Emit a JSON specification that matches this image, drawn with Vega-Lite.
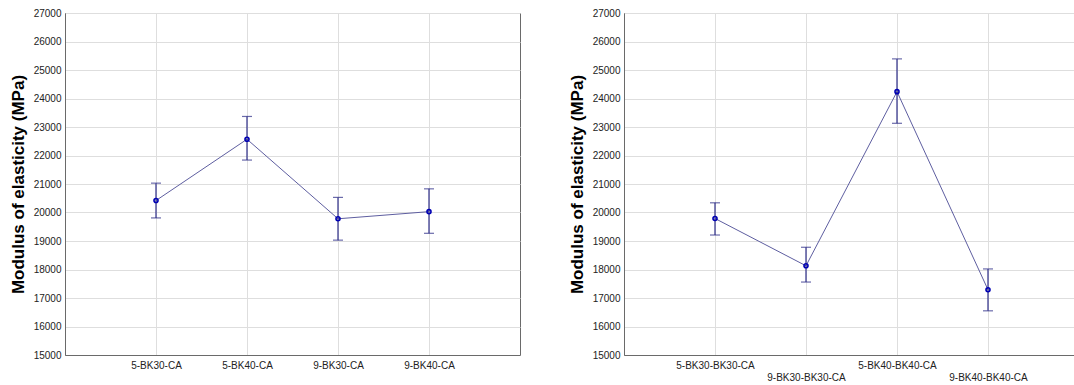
{
  "$schema": "https://vega.github.io/schema/vega-lite/v6.json",
  "padding": {"left": 8, "top": 7, "right": 0, "bottom": 0},
  "background": "white",
  "datasets": {
    "left": [
      {"group": "5-BK30-CA", "mean": 20420, "lo": 19810, "hi": 21030},
      {"group": "5-BK40-CA", "mean": 22570, "lo": 21840, "hi": 23370},
      {"group": "9-BK30-CA", "mean": 19780, "lo": 19030, "hi": 20530},
      {"group": "9-BK40-CA", "mean": 20030, "lo": 19270, "hi": 20830}
    ],
    "right": [
      {"group": "5-BK30-BK30-CA", "mean": 19790, "lo": 19210, "hi": 20340},
      {"group": "9-BK30-BK30-CA", "mean": 18130, "lo": 17560, "hi": 18780},
      {"group": "5-BK40-BK40-CA", "mean": 24240, "lo": 23130, "hi": 25390},
      {"group": "9-BK40-BK40-CA", "mean": 17290, "lo": 16550, "hi": 18020}
    ]
  },
  "config": {
    "font": "Liberation Sans",
    "view": {"stroke": "#6a6a6a", "strokeWidth": 1},
    "axis": {
      "labelFont": "Liberation Sans",
      "labelFontSize": 10,
      "labelColor": "#222222",
      "gridColor": "#dedede",
      "gridWidth": 1,
      "domain": true,
      "domainColor": "#6a6a6a",
      "domainWidth": 1,
      "ticks": false
    },
    "axisY": {
      "labelOverlap": false, "format": "d", "tickCount": 24, "tickMinStep": 1000,
      "titleFontSize": 17, "titleFontWeight": "bold", "titleColor": "#000000", "titleFont": "Liberation Sans", "labelPadding": 4, "titlePadding": 6, "grid": true
    }
  },
  "spacing": 46,
  "hconcat": [
    {
      "data": {"name": "left"},
      "width": 455,
      "height": 342,
      "encoding": {
        "x": {"field": "group", "type": "ordinal", "sort": null, "scale": {"type": "point", "padding": 1},
              "axis": {"title": null, "labelAngle": 0, "labelPadding": 5, "grid": true}}
      },
      "layer": [
        {"mark": {"type": "line", "color": "#5e5ea0", "strokeWidth": 1},
         "encoding": {"y": {"field": "mean", "type": "quantitative",
           "scale": {"domain": [15000, 27000], "nice": false, "zero": false},
           "axis": {"title": "Modulus of elasticity (MPa)", "tickCount": 24, "tickMinStep": 1000, "labelOverlap": false}}}},
        {"mark": {"type": "rule", "color": "#2c2c88", "strokeWidth": 1.2},
         "encoding": {"y": {"field": "lo", "type": "quantitative"}, "y2": {"field": "hi"}}},
        {"mark": {"type": "tick", "color": "#2c2c88", "size": 10, "thickness": 1.2},
         "encoding": {"y": {"field": "lo", "type": "quantitative"}}},
        {"mark": {"type": "tick", "color": "#2c2c88", "size": 10, "thickness": 1.2},
         "encoding": {"y": {"field": "hi", "type": "quantitative"}}},
        {"mark": {"type": "point", "color": "#0000b4", "filled": false, "size": 16, "strokeWidth": 1.6, "opacity": 1},
         "encoding": {"y": {"field": "mean", "type": "quantitative"}}}
      ]
    },
    {
      "data": {"name": "right"},
      "width": 455,
      "height": 342,
      "encoding": {
        "x": {"field": "group", "type": "ordinal", "sort": null, "scale": {"type": "point", "padding": 1},
              "axis": {"title": null, "labelAngle": 0, "labelPadding": 5, "grid": true, "labelLineHeight": 12,
                       "labelExpr": "indexof(datum.label, '9-') == 0 ? ['', datum.label] : datum.label", "labelBaseline": "top"}}
      },
      "layer": [
        {"mark": {"type": "line", "color": "#5e5ea0", "strokeWidth": 1},
         "encoding": {"y": {"field": "mean", "type": "quantitative",
           "scale": {"domain": [15000, 27000], "nice": false, "zero": false},
           "axis": {"title": "Modulus of elasticity (MPa)", "tickCount": 24, "tickMinStep": 1000, "labelOverlap": false}}}},
        {"mark": {"type": "rule", "color": "#2c2c88", "strokeWidth": 1.2},
         "encoding": {"y": {"field": "lo", "type": "quantitative"}, "y2": {"field": "hi"}}},
        {"mark": {"type": "tick", "color": "#2c2c88", "size": 10, "thickness": 1.2},
         "encoding": {"y": {"field": "lo", "type": "quantitative"}}},
        {"mark": {"type": "tick", "color": "#2c2c88", "size": 10, "thickness": 1.2},
         "encoding": {"y": {"field": "hi", "type": "quantitative"}}},
        {"mark": {"type": "point", "color": "#0000b4", "filled": false, "size": 16, "strokeWidth": 1.6, "opacity": 1},
         "encoding": {"y": {"field": "mean", "type": "quantitative"}}}
      ]
    }
  ]
}
